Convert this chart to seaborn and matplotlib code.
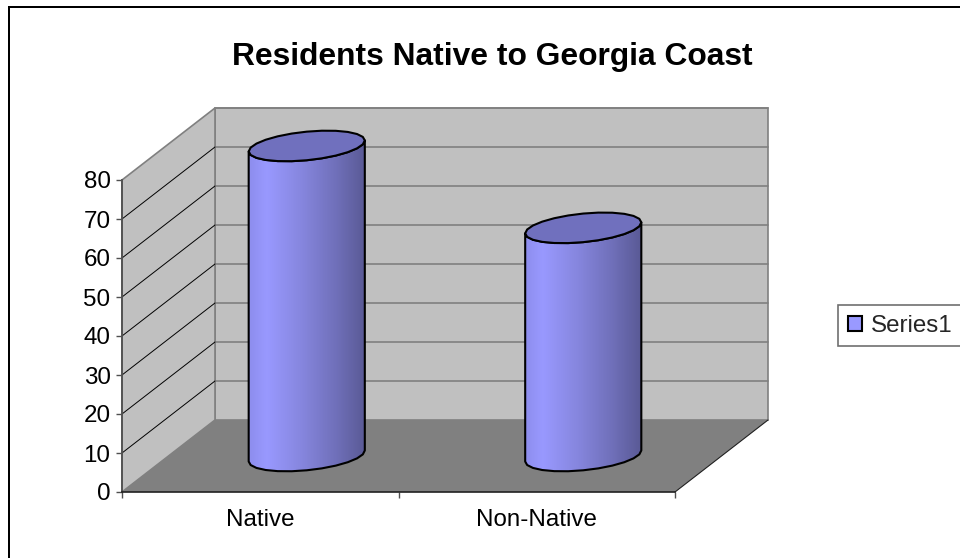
import numpy as np
import pandas as pd
import matplotlib
matplotlib.use("Agg")
import matplotlib.pyplot as plt
from matplotlib.colors import LinearSegmentedColormap
from matplotlib.lines import Line2D
from matplotlib.patches import Patch, Polygon
from matplotlib.transforms import Affine2D, IdentityTransform
import seaborn as sns

categories = ["Native", "Non-Native"]
values = [79.5, 58.5]
series_name = "Series1"
title = "Residents Native to Georgia Coast"
y_ticks = [0, 10, 20, 30, 40, 50, 60, 70, 80]

W, H, DPI = 960, 558, 100
DEPTH_X, DEPTH_Y = 93, 72          # depth of the box, in pixels
WALL, FLOOR, EDGE = "#C0C0C0", "#808080", "#808080"
BAR = "#9999FF"
LABEL_SIZE = 17.4

sns.set_theme(style="white")
plt.rcParams["font.family"] = ["Liberation Sans", "DejaVu Sans"]

fig = plt.figure(figsize=(W / DPI, H / DPI), dpi=DPI, facecolor="white")
ax = fig.add_axes([122 / W, (H - 492) / H, 553 / W, 312 / H], facecolor="none")

df = pd.DataFrame({"category": categories, "value": values})
sns.barplot(data=df, x="category", y="value", width=0.42, color=BAR,
            saturation=1, ax=ax, zorder=5)

xlim = (-0.5, 1.5)
ylim = (0, 80)
ax.set_xlim(xlim)
ax.set_ylim(ylim)
fig.canvas.draw()

mid = ax.transData + Affine2D().translate(DEPTH_X / 2, DEPTH_Y / 2)


def to_px(x, y, shift=(0, 0)):
    px = ax.transData.transform(np.column_stack([x, y]))
    return px + np.array(shift)


# box walls, built from the axis limits
x0, x1 = xlim
y0, y1 = ylim
front = to_px([x0, x1, x0, x1], [y0, y0, y1, y1])
fl, fr, tl, tr = front
d = np.array([DEPTH_X, DEPTH_Y])
idt = IdentityTransform()
ax.add_patch(Polygon([fl + d, fr + d, tr + d, tl + d], closed=True, transform=idt,
                     facecolor=WALL, edgecolor=EDGE, lw=1.2, zorder=1, clip_on=False))
ax.add_patch(Polygon([fl, fl + d, tl + d, tl], closed=True, transform=idt,
                     facecolor=WALL, edgecolor=EDGE, lw=1.2, zorder=1, clip_on=False))
ax.add_patch(Polygon([fl, fr, fr + d, fl + d], closed=True, transform=idt,
                     facecolor=FLOOR, edgecolor="none", zorder=2, clip_on=False))
ax.add_line(Line2D(*np.array([fr, fr + d]).T, transform=idt, color="#202020",
                   lw=0.8, zorder=3, clip_on=False))

for t in y_ticks[1:-1]:
    p = to_px([x0], [t])[0]
    ax.add_line(Line2D(*np.array([p, p + d]).T, transform=idt, color="black",
                       lw=0.7, zorder=3, clip_on=False))
for t in y_ticks[1:]:
    a = to_px([x0], [t])[0] + d
    b = to_px([x1], [t])[0] + d
    ax.add_line(Line2D(*np.array([a, b]).T, transform=idt, color=EDGE,
                       lw=1.2, zorder=2, clip_on=False))

# cylinders: the seaborn bars get moved to mid-depth and shaded
cmap = LinearSegmentedColormap.from_list(
    "cyl", [(0, "#8E8EEE"), (0.14, "#9999FF"), (0.45, "#8686DE"),
            (0.75, "#7070BA"), (1, "#5A5A96")])
gradient = np.linspace(0, 1, 40).reshape(1, -1)
SHEAR = 0.095
B = 14.3
theta_front = np.linspace(np.pi, 2 * np.pi, 13)
theta_all = np.linspace(0, 2 * np.pi, 25)


def rim(cx, cy, a, theta):
    dx = a * np.cos(theta)
    return np.column_stack([cx + dx, cy + B * np.sin(theta) + SHEAR * dx])


for bar in list(ax.patches):
    if bar.get_zorder() != 5:
        continue
    bx, bw, bh = bar.get_x(), bar.get_width(), bar.get_height()
    (cl, base), (cr, top) = to_px([bx, bx + bw], [0, bh], (DEPTH_X / 2, DEPTH_Y / 2))
    cx, a_px = (cl + cr) / 2, (cr - cl) / 2
    bar.set_transform(mid)
    bar.set_edgecolor("none")
    low = rim(cx, base, a_px, theta_front)
    up = rim(cx, top, a_px, theta_front)[::-1]
    body = Polygon(np.vstack([low, up]), closed=True, transform=idt,
                   facecolor="none", edgecolor="black", lw=1.5, zorder=7,
                   clip_on=False, joinstyle="round")
    ax.add_patch(body)
    bar.set_clip_box(fig.bbox)
    bar.set_clip_path(body)
    im = ax.imshow(gradient, cmap=cmap, aspect="auto", zorder=6, interpolation="bilinear",
                   extent=(bx, bx + bw, -10, bh + 10), transform=mid)
    im.set_clip_box(fig.bbox)
    im.set_clip_path(body)
    ax.add_patch(Polygon(rim(cx, top, a_px, theta_all), closed=True, transform=idt,
                         facecolor="#7070BE", edgecolor="black", lw=1.5, zorder=8,
                         clip_on=False, joinstyle="round"))

ax.set_xlim(xlim)
ax.set_ylim(ylim)

# axes dressing
ax.set_xlabel("")
ax.set_ylabel("")
sns.despine(ax=ax, top=True, right=True)
ax.spines["left"].set_color("#505050")
ax.spines["left"].set_linewidth(1.3)
ax.spines["left"].set_zorder(4)
ax.spines["bottom"].set_color("#202020")
ax.spines["bottom"].set_linewidth(1.2)
ax.spines["bottom"].set_zorder(4)
ax.set_yticks(y_ticks)
ax.tick_params(axis="y", length=4.3, width=1.0, color="#505050", labelsize=LABEL_SIZE,
               labelcolor="black", pad=4, left=True)
ax.set_xticks([x0, (x0 + x1) / 2, x1], labels=["", "", ""])
ax.tick_params(axis="x", which="major", length=4.3, width=1.0, color="#505050", bottom=True)
ax.set_xticks(range(len(categories)), labels=categories, minor=True)
ax.tick_params(axis="x", which="minor", length=0, pad=12.5, labelsize=LABEL_SIZE, labelcolor="black")

fig.text(492 / W, 1 - 57 / H, title, ha="center", va="center", fontsize=22.9,
         fontweight="bold", color="black")

# legend
leg = fig.legend(handles=[Patch(facecolor=BAR, edgecolor="black", lw=1.5, label=series_name)],
                 loc="upper left", bbox_to_anchor=(838 / W, 1 - 305 / H), borderaxespad=0,
                 fontsize=LABEL_SIZE, frameon=True, fancybox=False, edgecolor="#707070",
                 framealpha=1, borderpad=0.4, handlelength=0.58, handleheight=0.58,
                 handletextpad=0.4)
leg.get_frame().set_linewidth(1.2)

# chart border: only left and top reach inside the picture
fig.add_artist(Line2D([9 / W, 9 / W], [0, 1 - 7 / H], color="black", lw=1.44,
                      transform=fig.transFigure, solid_capstyle="projecting"))
fig.add_artist(Line2D([9 / W, 1], [1 - 7 / H, 1 - 7 / H], color="black", lw=1.44,
                      transform=fig.transFigure, solid_capstyle="projecting"))

fig.savefig("out.png", dpi=DPI)
